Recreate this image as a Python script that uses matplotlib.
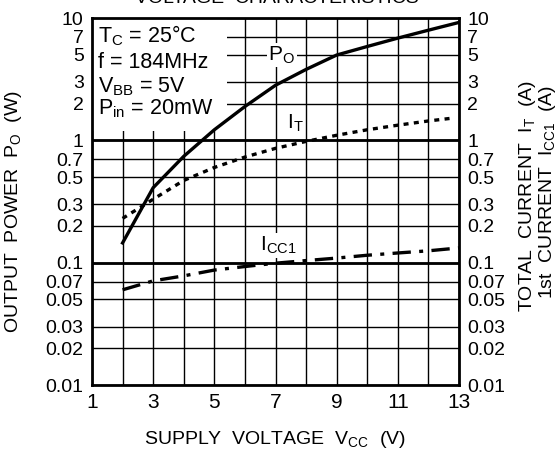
import matplotlib
matplotlib.use("Agg")
import matplotlib.pyplot as plt
from matplotlib.patches import Rectangle

# supply voltage (V)
vcc = [2, 3, 4, 5, 6, 7, 8, 9, 10, 11, 12, 13]
# output power Po (W)
po = [0.145, 0.41, 0.74, 1.22, 1.89, 2.82, 3.8, 4.98, 5.85, 6.85, 7.95, 9.2]
# total current IT (A)
vcc_it = [2, 3, 4, 5, 6, 7, 8, 9, 10, 11, 12, 12.8]
it = [0.23, 0.33, 0.47, 0.6, 0.73, 0.86, 0.98, 1.1, 1.22, 1.33, 1.44, 1.52]
# 1st current Icc1 (A)
icc1 = [0.060, 0.071, 0.078, 0.087, 0.093, 0.099, 0.104, 0.109, 0.115, 0.12, 0.125, 0.132]

y_ticks = [0.01, 0.02, 0.03, 0.05, 0.07, 0.1, 0.2, 0.3, 0.5, 0.7, 1, 2, 3, 5, 7, 10]
y_labels = ["0.01", "0.02", "0.03", "0.05", "0.07", "0.1", "0.2", "0.3", "0.5", "0.7",
            "1", "2", "3", "5", "7", "10"]
x_major = [1, 3, 5, 7, 9, 11, 13]
x_minor = [2, 4, 6, 8, 10, 12]

cond_lines = ["T$_\\mathregular{C}$ = 25\u00b0C", "f = 184MHz",
              "V$_\\mathregular{BB}$ = 5V", "P$_\\mathregular{in}$ = 20mW"]
cond_y = [7.2, 4.3, 2.75, 1.8]

plt.rcParams["font.family"] = ["Liberation Sans", "DejaVu Sans"]
narrow = ["Liberation Sans Narrow", "Liberation Sans", "DejaVu Sans"]

fig = plt.figure(figsize=(5.57, 4.55), dpi=100)
ax = fig.add_axes([92 / 557, 70 / 455, 367 / 557, 367 / 455])

ax.set_xlim(1, 13)
ax.set_yscale("log")
ax.set_ylim(0.01, 10)

ax.set_xticks(x_major)
ax.set_xticks(x_minor, minor=True)
ax.set_xticklabels([str(v) for v in x_major], family=narrow, fontsize=15)
ax.set_yticks(y_ticks)
ax.set_yticks([], minor=True)
ax.set_yticklabels(y_labels, family=narrow, fontsize=14)
ax.tick_params(which="both", length=0, pad=6)

ax.grid(True, which="both", color="black", linewidth=1.0)
for d in [0.1, 1]:
    ax.axhline(d, color="black", linewidth=2.0, zorder=1)
for s in ax.spines.values():
    s.set_linewidth(2.0)

# condition box
ax.add_patch(Rectangle((1, 1.2), 4.4, 8.8, facecolor="white", edgecolor="none", zorder=2))
for txt, yy in zip(cond_lines, cond_y):
    ax.text(1.18, yy, txt, fontsize=15.5, va="center", ha="left", zorder=3)

ax.plot(vcc, po, color="black", linewidth=2.4, zorder=4)
ax.plot(vcc_it, it, color="black", linewidth=2.4, linestyle=(0, (1.5, 1.6)), zorder=4)
ax.plot(vcc, icc1, color="black", linewidth=2.4, linestyle=(0, (5.5, 2.5, 1.2, 2.5)), zorder=4)

wb = dict(facecolor="white", edgecolor="none", pad=1)
ax.text(7.2, 5.0, "P$_\\mathregular{O}$", fontsize=15, ha="center", va="center", bbox=wb, zorder=3)
ax.text(7.65, 1.38, "I$_\\mathregular{T}$", fontsize=15, ha="center", va="center", bbox=wb, zorder=3)
ax.text(7.1, 0.138, "I$_\\mathregular{CC1}$", fontsize=15, ha="center", va="center", bbox=wb, zorder=3)

ax2 = ax.twinx()
ax2.set_yscale("log")
ax2.set_ylim(0.01, 10)
ax2.set_yticks(y_ticks)
ax2.set_yticks([], minor=True)
ax2.set_yticklabels(y_labels, family=narrow, fontsize=14)
ax2.tick_params(which="both", length=0, pad=6)
for s in ax2.spines.values():
    s.set_visible(False)

# title of the sheet, cut off by the top edge as in the scan
fig.text(277 / 557, 1 - 3 / 455, "VOLTAGE  CHARACTERISTICS", fontsize=14,
         ha="center", va="baseline")
fig.text(275 / 557, 1 - 440 / 455, "SUPPLY  VOLTAGE  V$_\\mathregular{CC}$  (V)", fontsize=14,
         ha="center", va="center")
fig.text(14 / 557, 1 - 212 / 455, "OUTPUT  POWER  P$_\\mathregular{O}$  (W)", fontsize=14,
         rotation=90, ha="center", va="center")
fig.text(527 / 557, 1 - 196 / 455, "TOTAL  CURRENT  I$_\\mathregular{T}$  (A)", fontsize=14,
         rotation=90, ha="center", va="center")
fig.text(547 / 557, 1 - 192 / 455, "1st  CURRENT  I$_\\mathregular{CC1}$  (A)", fontsize=14,
         rotation=90, ha="center", va="center")

fig.savefig("out.png", dpi=100)
